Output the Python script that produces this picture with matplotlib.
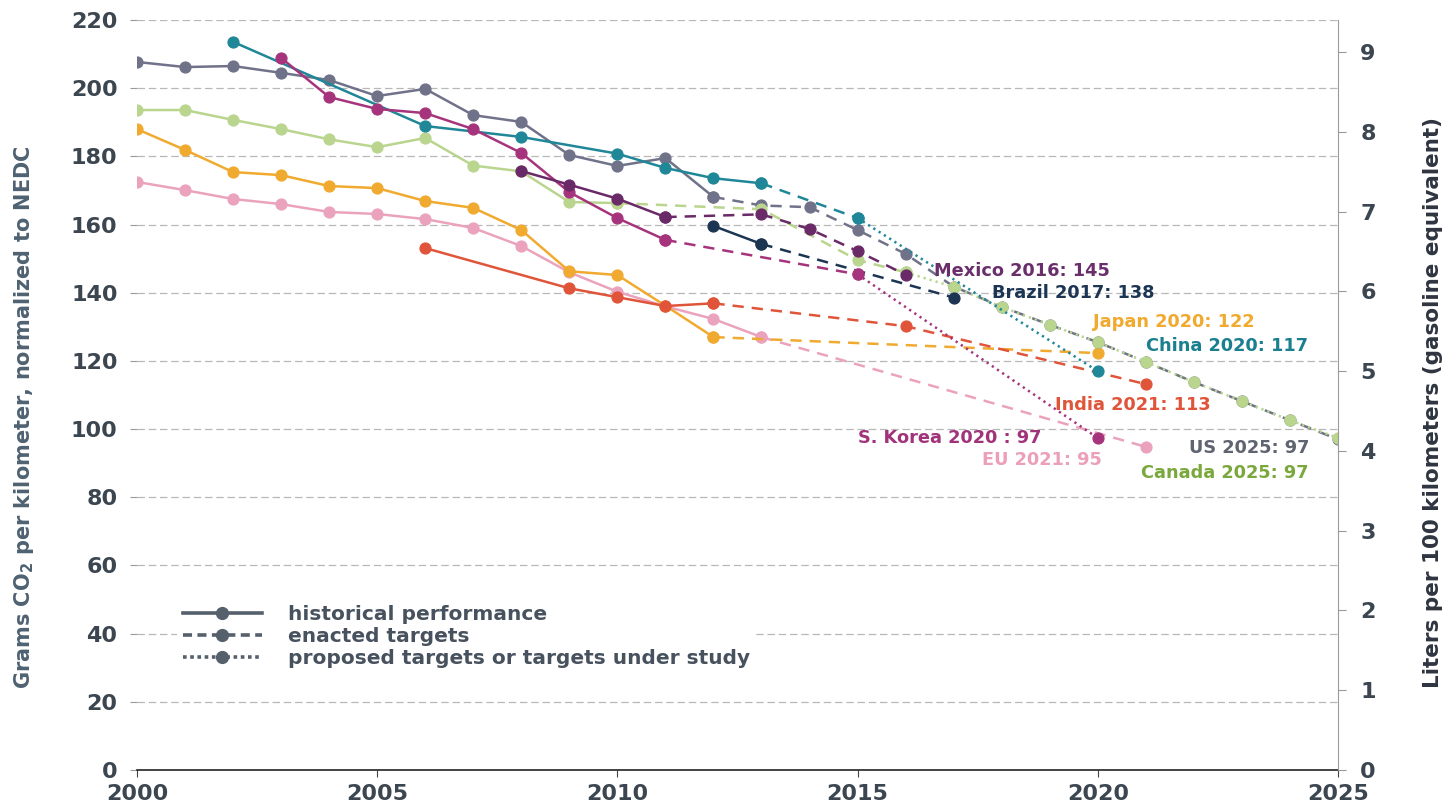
import matplotlib; matplotlib.use("Agg")
import matplotlib.pyplot as plt, numpy as np
from matplotlib.lines import Line2D

# historical / enacted / proposed
us_hist_yr=list(range(2000,2013)); us_hist=[207.7,206.2,206.5,204.5,202.4,197.7,199.8,192.1,190.1,180.4,177.2,179.5,168.1]
us_enac_yr=list(range(2012,2026)); us_enac=[168.1,165.6,165.1,158.4,151.4,141.8,135.9,130.6,125.5,119.7,113.8,108.2,102.6,97.0]
ca_hist_yr=list(range(2000,2011)); ca_hist=[193.6,193.6,190.7,188.0,185.0,182.7,185.4,177.3,175.6,166.6,166.3]
ca_enac_yr=[2010,2013,2015,2016]; ca_enac=[166.3,164.5,149.6,146.0]
ca_prop_yr=list(range(2016,2026)); ca_prop=[146.0,141.7,135.8,130.6,125.5,119.7,113.8,108.2,102.6,97.4]
cn_hist_yr=[2002,2006,2008,2010,2011,2012,2013]; cn_hist=[213.6,188.9,185.7,180.8,176.6,173.6,172.1]
cn_enac_yr=[2013,2015]; cn_enac=[172.1,161.9]
cn_prop_yr=[2015,2020]; cn_prop=[161.9,117.0]
kr_hist_yr=list(range(2003,2012)); kr_hist=[208.9,197.4,193.9,192.7,188.0,181.0,169.5,161.9,155.5]
kr_enac_yr=[2011,2015]; kr_enac=[155.5,145.4]
kr_prop_yr=[2015,2020]; kr_prop=[145.4,97.4]
mx_hist_yr=[2008,2009,2010,2011]; mx_hist=[175.7,171.7,167.6,162.2]
mx_enac_yr=[2011,2013,2014,2015,2016]; mx_enac=[162.2,163.0,158.7,152.2,145.3]
br_hist_yr=[2012,2013]; br_hist=[159.6,154.3]
br_enac_yr=[2013,2017]; br_enac=[154.3,138.6]
jp_hist_yr=list(range(2000,2013)); jp_hist=[188.0,181.9,175.4,174.5,171.3,170.7,166.9,164.9,158.4,146.3,145.2,136.2,127.0]
jp_enac_yr=[2012,2020]; jp_enac=[127.0,122.3]
in_hist_yr=[2006,2009,2010,2011,2012]; in_hist=[153.1,141.3,138.7,136.1,136.9]
in_enac_yr=[2012,2016,2021]; in_enac=[136.9,130.2,113.2]
eu_hist_yr=list(range(2000,2014)); eu_hist=[172.5,170.1,167.5,166.0,163.7,163.1,161.6,159.0,153.7,146.0,140.3,136.0,132.3,127.0]
eu_enac_yr=[2013,2021]; eu_enac=[127.0,94.8]

C={"us":"#707289","ca":"#b9d58e","cn":"#1f8797","kr":"#a6347c","mx":"#6a2a68","br":"#1c3553",
   "jp":"#f0aa30","in":"#e0553a","eu":"#eba3bd"}
labels=[("Mexico 2016: 145",2016.6,146.5,"#6a2e6c"),("Brazil 2017: 138",2017.8,140.0,"#1c3553"),
        ("Japan 2020: 122",2019.9,131.5,"#f0aa30"),("China 2020: 117",2021.0,124.5,"#1a7f8f"),
        ("India 2021: 113",2019.1,107.0,"#e0553a"),("S. Korea 2020 : 97",2015.0,97.5,"#a0337a"),
        ("EU 2021: 95",2017.6,91.0,"#eba0b8"),("US 2025: 97",2021.9,94.5,"#5f6470"),
        ("Canada 2025: 97",2020.9,87.0,"#7aa83c")]

plt.rcParams["font.family"]="DejaVu Sans"; plt.rcParams["font.weight"]="bold"
fig=plt.figure(figsize=(14.54,8.07),dpi=100)
ax=fig.add_axes([0.0942,0.0458,0.8260,0.9294])
ax.set_xlim(2000,2025); ax.set_ylim(0,220)
for y in range(20,221,20):
    ax.axhline(y,color="#b8b8b8",lw=0.9,dashes=(6,3),zorder=0)

DASH=(4.5,3.2); DOT=(0.9,1.6)
def draw(yr,v,c,style,z):
    kw=dict(color=c,lw=1.8,marker="o",ms=7.8,mec=c,mfc=c,zorder=z)
    if style=="dash": kw["dashes"]=DASH
    if style=="dot": kw["dashes"]=DOT
    ax.plot(yr,v,**kw)

series=[("eu",eu_hist_yr,eu_hist,eu_enac_yr,eu_enac,None,None),
        ("jp",jp_hist_yr,jp_hist,jp_enac_yr,jp_enac,None,None),
        ("in",in_hist_yr,in_hist,in_enac_yr,in_enac,None,None),
        ("us",us_hist_yr,us_hist,us_enac_yr,us_enac,None,None),
        ("ca",ca_hist_yr,ca_hist,ca_enac_yr,ca_enac,ca_prop_yr,ca_prop),
        ("cn",cn_hist_yr,cn_hist,cn_enac_yr,cn_enac,cn_prop_yr,cn_prop),
        ("br",br_hist_yr,br_hist,br_enac_yr,br_enac,None,None),
        ("kr",kr_hist_yr,kr_hist,kr_enac_yr,kr_enac,kr_prop_yr,kr_prop),
        ("mx",mx_hist_yr,mx_hist,mx_enac_yr,mx_enac,None,None)]
for i,(k,hy,hv,ey,ev,py,pv) in enumerate(series):
    draw(hy,hv,C[k],"solid",3+i*0.1)
    draw(ey,ev,C[k],"dash",3+i*0.1)
    if py: draw(py,pv,C[k],"dot",3+i*0.1)

for t,x,y,c in labels:
    ax.text(x,y,t,color=c,fontsize=12.8,fontweight="bold",va="center",ha="left",zorder=6)

ax.set_xticks(range(2000,2026,5)); ax.set_yticks(range(0,221,20))
ax.tick_params(axis="both",labelsize=16,colors="#3c4650",length=5,width=0.8)
ax.tick_params(axis="x",pad=5); ax.tick_params(axis="y",color="#999999",pad=9)
for lab in ax.get_xticklabels()+ax.get_yticklabels(): lab.set_fontweight("bold")
for sp in ("top","right","left"): ax.spines[sp].set_visible(False)
ax.spines["bottom"].set_color("#222222"); ax.spines["bottom"].set_linewidth(1.2)
ax.set_ylabel("Grams CO$_\\mathbf{2}$ per kilometer, normalized to NEDC",fontsize=15,fontweight="bold",color="#4f6272")
ax.yaxis.set_label_coords(-0.084,0.47)

ax2=ax.twinx(); ax2.set_ylim(0,220/23.4); ax2.set_yticks(range(0,10))
ax2.tick_params(axis="y",labelsize=16,colors="#3c4650",length=6,width=0.8,pad=10)
ax2.tick_params(axis="y",color="#999999")
for lab in ax2.get_yticklabels(): lab.set_fontweight("bold")
for sp in ("top","left","bottom"): ax2.spines[sp].set_visible(False)
ax2.spines["right"].set_color("#9a9a9a")
ax2.set_ylabel("Liters per 100 kilometers (gasoline equivalent)",fontsize=15.5,fontweight="bold",color="#2f3540")
ax2.yaxis.set_label_coords(1.071,0.49)

lc="#55606c"
h=[Line2D([],[],color=lc,lw=2.6,marker="o",ms=8.5),
   Line2D([],[],color=lc,lw=2.6,marker="o",ms=8.5,dashes=(2.5,1.5)),
   Line2D([],[],color=lc,lw=2.6,marker="o",ms=8.5,dashes=(1,1))]
leg=ax.legend(h,["historical performance","enacted targets","proposed targets or targets under study"],
    loc="lower left",bbox_to_anchor=(0.025,0.115),frameon=True,fontsize=14.5,handlelength=3.9,
    labelspacing=0.15,handletextpad=1.3,borderpad=0.3,facecolor="white",edgecolor="none",framealpha=1)
for t in leg.get_texts(): t.set_color("#48525e"); t.set_fontweight("bold")
leg.set_zorder(8)
fig.savefig("out.png",dpi=100)
